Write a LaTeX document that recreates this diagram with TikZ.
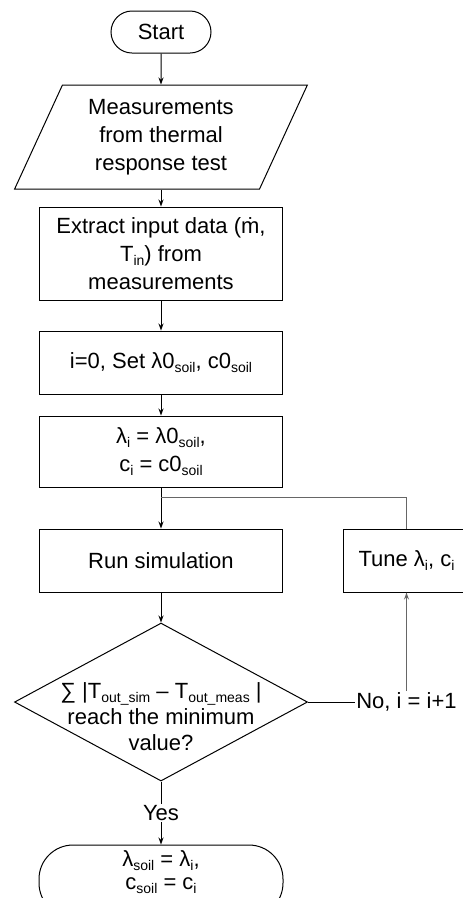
\documentclass[tikz,border=0pt]{standalone}
\usepackage{fontspec}
\setmainfont{Liberation Sans}
\usetikzlibrary{arrows.meta, positioning, shapes.geometric}
\newcommand{\lowtxt}[1]{\raisebox{-0.35ex}{\fontsize{14}{14}\selectfont #1}}

\begin{document}
\begin{tikzpicture}[
		x=1pt, y=-1pt,
		font=\fontsize{22}{28}\selectfont,
		line width=1pt,
		term/.style={draw, rounded corners=21pt, align=center, minimum width=100pt, minimum height=42pt, inner sep=0pt},
		io/.style={draw, trapezium, trapezium left angle=65, trapezium right angle=115, trapezium stretches=true, align=center, minimum width=293pt, minimum height=104pt, inner sep=0pt},
		box/.style={draw, align=center, minimum width=243pt, inner sep=0pt},
		decision/.style={draw, diamond, minimum width=293pt, minimum height=158pt, inner sep=0pt},
		arrow/.style={-{Stealth[length=7pt, width=5pt]}},
		feedback/.style={draw=black!60}
		]
		\useasboundingbox (0,0) rectangle (463,898);
		
		% Start
		\node[term] (start) at (161,32) {Start};
		
		% Measured data
		\node[io, below=31pt of start] (meas) {Measurements\\from thermal\\response test};
		\node[box, minimum height=93pt, below=17pt of meas] (extract) {Extract input data (ṁ,\\T\lowtxt{in}) from\\measurements};
		
		% Initial values
		\node[box, minimum height=63pt, below=30pt of extract] (init) {i=0, Set λ0\lowtxt{soil}, c0\lowtxt{soil}};
		\node[box, minimum height=71pt, below=21pt of init] (assign) {λ\lowtxt{i} = λ0\lowtxt{soil},\\c\lowtxt{i} = c0\lowtxt{soil}};
		
		% Simulation loop
		\node[box, minimum height=63pt, below=41pt of assign] (run) {Run simulation};
		\node[box, minimum width=126pt, minimum height=63pt, right=60pt of run] (tune) {Tune λ\lowtxt{i}, c\lowtxt{i}};
		\node[decision, below=30pt of run, label={[align=center, yshift=-15pt, font=\fontsize{22}{26}\selectfont]center:∑ |T\lowtxt{out\_sim} – T\lowtxt{out\_meas} |\\reach the minimum\\value?}] (check) {};
		\node[fill=white, inner sep=1pt] (nolabel) at (tune.south |- check.east) {No, i = i+1};
		
		% Result
		\node[term, rounded corners=34pt, minimum width=244pt, minimum height=72pt, below=63pt of check, label={[align=center, yshift=9pt, font=\fontsize{22}{23}\selectfont]center:λ\lowtxt{soil} = λ\lowtxt{i},\\c\lowtxt{soil} = c\lowtxt{i}}] (final) {};
		
		% Arrows
		\draw[arrow] (start) -- (meas);
		\draw[arrow] (meas.south) -- (extract.north);
		\draw[arrow] (extract) -- (init);
		\draw[arrow] (init) -- (assign);
		\draw[arrow] (assign) -- (run);
		\coordinate[below=10pt of assign.south] (split);
		\draw[feedback] (split) -| (tune.north);
		\draw[arrow] (run) -- (check);
		\draw[arrow] (check) -- node[fill=white, inner sep=1pt]{Yes} (final);
		\draw (check.east) -- (nolabel);
		\draw[arrow, feedback] (nolabel) -- (tune);
		
	\end{tikzpicture}
\end{document}
